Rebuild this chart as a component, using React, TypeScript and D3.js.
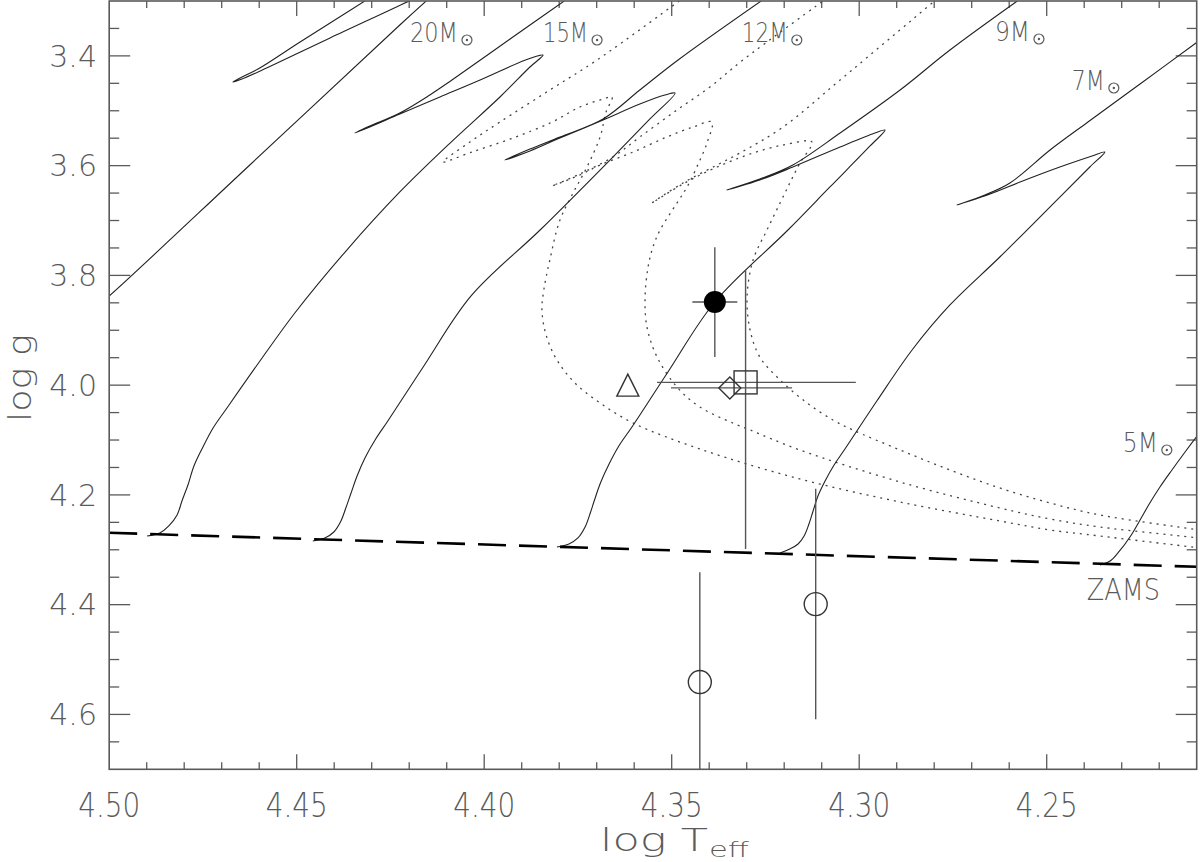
import React from "react";
import * as d3 from "d3";

// ---------- axes ----------
const X_DOMAIN = [4.5, 4.21];
const Y_DOMAIN = [3.3, 4.7];
const xTickLabels = ["4.50", "4.45", "4.40", "4.35", "4.30", "4.25"];
const yTickLabels = ["3.4", "3.6", "3.8", "4.0", "4.2", "4.4", "4.6"];

// ---------- ZAMS ----------
const zamsT = [4.5, 4.21];
const zamsG = [4.269, 4.331];

// ---------- solid evolutionary tracks (log Teff, log g) ----------
const m20msT = [4.503, 4.5, 4.4625, 4.4225, 4.414];
const m20msG = [3.854, 3.8375, 3.5988, 3.3437, 3.291];
const m20loopT = [4.431, 4.4491, 4.4603, 4.4651, 4.467, 4.4646, 4.4603, 4.4411, 4.4195, 4.4185];
const m20loopG = [3.2964, 3.3747, 3.4239, 3.4403, 3.4476, 3.4421, 3.4294, 3.3674, 3.2982, 3.2945];

const m15T = [4.4899, 4.4865, 4.4841, 4.4819, 4.4806, 4.479, 4.4774, 4.475, 4.4723, 4.4686, 4.4598, 4.4505, 4.4371, 4.4225, 4.4091, 4.3958, 4.3878, 4.3843,
  4.3867, 4.3897, 4.4011, 4.4118, 4.4225, 4.4305, 4.4345,
  4.4305, 4.4225, 4.4145, 4.4086, 4.3931, 4.3779];
const m15G = [4.2749, 4.2694, 4.2566, 4.2366, 4.2111, 4.1819, 4.1473, 4.1127, 4.0781, 4.0416, 3.956, 3.8685, 3.7574, 3.648, 3.5588, 3.4749, 3.4203, 3.3984,
  3.4021, 3.4093, 3.444, 3.4749, 3.5059, 3.5296, 3.5405,
  3.5278, 3.5041, 3.4713, 3.444, 3.3693, 3.2964];

const m12T = [4.4457, 4.4425, 4.4401, 4.4382, 4.4369, 4.4355, 4.4339, 4.4318, 4.4291, 4.4257, 4.4161, 4.4035, 4.3851, 4.3691, 4.3558, 4.3491,
  4.3518, 4.3585, 4.3683, 4.3798, 4.3878, 4.3945,
  4.3878, 4.3798, 4.3683, 4.3585, 4.3483, 4.3254];
const m12G = [4.284, 4.2785, 4.2676, 4.2475, 4.2238, 4.1965, 4.1655, 4.1327, 4.0999, 4.0653, 3.9651, 3.8375, 3.7173, 3.608, 3.515, 3.4677,
  3.4713, 3.4877, 3.5168, 3.5496, 3.5733, 3.5897,
  3.5697, 3.5478, 3.515, 3.4622, 3.4075, 3.2964];

const m9T = [4.3806, 4.3774, 4.375, 4.3731, 4.3718, 4.3705, 4.3689, 4.3667, 4.3641, 4.3606, 4.351, 4.3385, 4.319, 4.3078, 4.2971, 4.2931,
  4.2958, 4.3051, 4.3177, 4.3265, 4.3353,
  4.3265, 4.3177, 4.3051, 4.2891, 4.2758, 4.2571];
const m9G = [4.2949, 4.2894, 4.2785, 4.2585, 4.2348, 4.2074, 4.1765, 4.1437, 4.1109, 4.0762, 3.976, 3.8485, 3.7173, 3.6389, 3.5642, 3.5351,
  3.5405, 3.566, 3.6025, 3.6262, 3.6444,
  3.6244, 3.5988, 3.5405, 3.4622, 3.3893, 3.2964];

const m7T = [4.3211, 4.3185, 4.3163, 4.3147, 4.3134, 4.3123, 4.311, 4.3091, 4.3067, 4.3038, 4.2953, 4.2859, 4.2758, 4.2625, 4.2465, 4.2385, 4.2345,
  4.2379, 4.2465, 4.2571, 4.2651, 4.2739,
  4.2665, 4.2598, 4.2491, 4.239, 4.2251, 4.2091];
const m7G = [4.3058, 4.2985, 4.2894, 4.2749, 4.253, 4.2293, 4.202, 4.1746, 4.1455, 4.1163, 4.0289, 3.9359, 3.8539, 3.7665, 3.6572, 3.6025, 3.5751,
  3.5824, 3.6025, 3.6298, 3.6517, 3.6717,
  3.6535, 3.6316, 3.5715, 3.5205, 3.4512, 3.3711];

const m5T = [4.2358, 4.2331, 4.231, 4.2278, 4.2251, 4.2225, 4.2198, 4.2166, 4.2131, 4.2091];
const m5G = [4.3277, 4.3204, 4.3058, 4.2767, 4.2457, 4.2147, 4.1856, 4.1546, 4.1218, 4.0854];

// ---------- dotted tracks ----------
const dotAT = [4.2091, 4.2358, 4.2491, 4.2625, 4.2891, 4.3158, 4.3425, 4.3603, 4.3691, 4.3758, 4.3806, 4.3835, 4.3846, 4.3841, 4.3825, 4.3798, 4.3763, 4.3726, 4.3691, 4.3675, 4.3659,
  4.3683, 4.3745, 4.3819, 4.3923, 4.4033, 4.411,
  4.4038, 4.3958, 4.3825, 4.3699, 4.3473];
const dotAG = [4.2967, 4.2749, 4.2639, 4.2475, 4.2129, 4.171, 4.1163, 4.069, 4.0325, 3.9961, 3.9542, 3.9086, 3.8631, 3.8266, 3.7719, 3.6991, 3.6499, 3.6025, 3.5478, 3.5023, 3.4749,
  3.4786, 3.4932, 3.5205, 3.5496, 3.5752, 3.5934,
  3.5569, 3.5205, 3.4622, 3.4075, 3.2964];

const dotBT = [4.2091, 4.2358, 4.2491, 4.2625, 4.2891, 4.3158, 4.3291, 4.3337, 4.3425, 4.3486, 4.3539, 4.3566, 4.3571, 4.3563, 4.355, 4.3531, 4.3486, 4.3459, 4.3433, 4.3406, 4.3393,
  4.3443, 4.3513, 4.3603, 4.3691, 4.3745, 4.3819,
  4.3745, 4.3657, 4.3585, 4.3486, 4.3398, 4.331, 4.3089];
const dotBG = [4.2785, 4.2585, 4.2439, 4.2238, 4.1765, 4.1182, 4.0817, 4.069, 4.0398, 4.0034, 3.9487, 3.894, 3.8394, 3.7847, 3.7483, 3.7173, 3.6681, 3.6389, 3.6025, 3.5588, 3.5205,
  3.5296, 3.5478, 3.5752, 3.5988, 3.6171, 3.6371,
  3.6152, 3.5843, 3.5478, 3.4986, 3.4567, 3.4075, 3.2964];

const dotCT = [4.2091, 4.2358, 4.2491, 4.2625, 4.2758, 4.2891, 4.3017, 4.307, 4.3139, 4.3211, 4.3265, 4.3291, 4.3299, 4.3283, 4.3246, 4.3211, 4.3185, 4.3158, 4.3126,
  4.3203, 4.3291, 4.3379, 4.347, 4.3553,
  4.347, 4.3379, 4.3318, 4.3203, 4.3051, 4.2793];
const dotCG = [4.2639, 4.2366, 4.2147, 4.1874, 4.1546, 4.1182, 4.0817, 4.0635, 4.0325, 3.9906, 3.9487, 3.8995, 3.8394, 3.7719, 3.7173, 3.6681, 3.6316, 3.5952, 3.5569,
  3.5624, 3.5788, 3.6025, 3.6335, 3.6681,
  3.6316, 3.5988, 3.577, 3.5296, 3.444, 3.2964];

// ---------- observed stars ----------
const filledStar = { t: 4.3385, g: 3.8485, tLo: 4.3445, tHi: 4.3325, gLo: 3.7485, gHi: 3.9485 };
const squareStar = { t: 4.3303, g: 3.995, tLo: 4.3539, tHi: 4.3009, gLo: 3.79, gHi: 4.2985 };
const diamondStar = { t: 4.3345, g: 4.005, tLo: 4.3502, tHi: 4.3179 };
const triangleStar = { t: 4.3617, g: 4.0 };
const openStarsT = [4.3425, 4.3116];
const openStarsG = [4.541, 4.399];
const openStarsErr = [0.2, 0.21];

// ---------- mass labels ----------
const massLabels = ["20M", "15M", "12M", "9M", "7M", "5M"];
const massLabelT = [4.4198, 4.3843, 4.3313, 4.2638, 4.2433, 4.2297];
const massLabelG = [3.3747, 3.3747, 3.3747, 3.3729, 3.4622, 4.1218];
const zamsLabel = { text: "ZAMS", t: 4.2393, g: 4.3913 };

const GREY = "#5a5a5a";
const FONT = "'DejaVu Sans', sans-serif";

export default function App() {
  const x = d3.scaleLinear().domain(X_DOMAIN).range([109.2, 1196.7]);
  const y = d3.scaleLinear().domain(Y_DOMAIN).range([1, 769.3]);
  const [x0, x1] = x.range();
  const [y0, y1] = y.range();

  const pts = (T: number[], G: number[]) => T.map((t, i) => [t, G[i]] as [number, number]);
  const smooth = d3
    .line<[number, number]>()
    .x((d) => x(d[0]))
    .y((d) => y(d[1]))
    .curve(d3.curveCatmullRom.alpha(0.5));
  const straight = d3
    .line<[number, number]>()
    .x((d) => x(d[0]))
    .y((d) => y(d[1]));

  const solidTracks = [
    pts(m20msT, m20msG),
    pts(m20loopT, m20loopG),
    pts(m15T, m15G),
    pts(m12T, m12G),
    pts(m9T, m9G),
    pts(m7T, m7G),
    pts(m5T, m5G),
  ];
  const dottedTracks = [pts(dotAT, dotAG), pts(dotBT, dotBG), pts(dotCT, dotCG)];

  const xTicks = d3.range(422, 450).map((v) => v / 100);
  const yTicks = d3.range(67, 94).map((v) => v / 20);

  const labelWidths = [48, 45, 46, 35, 33, 35];

  return (
    <svg
      width={1200}
      height={862}
      style={{ position: "absolute", left: 0, top: 0, background: "#fff" }}
      fontFamily={FONT}
      fontWeight={200}
    >
      <defs>
        <clipPath id="plot">
          <rect x={x0} y={y0} width={x1 - x0} height={y1 - y0} />
        </clipPath>
      </defs>

      {/* ticks */}
      {xTicks.map((v) => {
        const k = Math.round(v * 100);
        const len = k % 5 === 0 ? 15 : 7;
        return (
          <g key={"xt" + k} stroke={GREY} strokeWidth={1.3}>
            <line x1={x(v)} x2={x(v)} y1={y1} y2={y1 - len} />
            <line x1={x(v)} x2={x(v)} y1={y0} y2={y0 + len} />
          </g>
        );
      })}
      {yTicks.map((v) => {
        const k = Math.round(v * 100);
        const len = k % 20 === 0 ? 21 : 10;
        return (
          <g key={"yt" + k} stroke={GREY} strokeWidth={1.3}>
            <line x1={x0} x2={x0 + len} y1={y(v)} y2={y(v)} />
            <line x1={x1} x2={x1 - len} y1={y(v)} y2={y(v)} />
          </g>
        );
      })}

      {/* tick labels */}
      {xTickLabels.map((s) => (
        <text
          key={"xl" + s}
          x={x(+s)}
          y={817}
          fontSize={33}
          fill={GREY}
          textAnchor="middle"
          textLength={62}
          lengthAdjust="spacingAndGlyphs"
        >
          {s}
        </text>
      ))}
      {yTickLabels.map((s) => (
        <text
          key={"yl" + s}
          x={97}
          y={y(+s)}
          dy="0.36em"
          fontSize={30}
          fill={GREY}
          textAnchor="end"
        >
          {s}
        </text>
      ))}

      {/* axis titles */}
      <text
        transform={`translate(31,378) rotate(-90)`}
        fontSize={32}
        fill={GREY}
        textAnchor="middle"
        textLength={88}
        lengthAdjust="spacingAndGlyphs"
      >
        log g
      </text>
      <text x={600} y={851} fontSize={32} fill={GREY} textLength={108} lengthAdjust="spacingAndGlyphs">
        log T
      </text>
      <text x={709} y={857} fontSize={21} fill={GREY} textLength={40} lengthAdjust="spacingAndGlyphs">
        eff
      </text>

      <g clipPath="url(#plot)">
        {/* dotted tracks */}
        {dottedTracks.map((d, i) => (
          <path
            key={"dot" + i}
            d={smooth(d) || ""}
            fill="none"
            stroke="#444"
            strokeWidth={1.3}
            strokeDasharray="2 5"
          />
        ))}
        {/* solid tracks */}
        {solidTracks.map((d, i) => (
          <path key={"trk" + i} d={smooth(d) || ""} fill="none" stroke="#222" strokeWidth={1.1} />
        ))}
        {/* ZAMS */}
        <path
          d={straight(pts(zamsT, zamsG)) || ""}
          fill="none"
          stroke="#000"
          strokeWidth={2.6}
          strokeDasharray="28 13"
        />

        {/* error bars */}
        <g stroke="#555" strokeWidth={1.4}>
          <line x1={x(filledStar.t)} x2={x(filledStar.t)} y1={y(filledStar.gLo)} y2={y(filledStar.gHi)} />
          <line x1={x(filledStar.tLo)} x2={x(filledStar.tHi)} y1={y(filledStar.g)} y2={y(filledStar.g)} />
          <line x1={x(squareStar.t)} x2={x(squareStar.t)} y1={y(squareStar.gLo)} y2={y(squareStar.gHi)} />
          <line x1={x(squareStar.tLo)} x2={x(squareStar.tHi)} y1={y(squareStar.g)} y2={y(squareStar.g)} />
          <line x1={x(diamondStar.tLo)} x2={x(diamondStar.tHi)} y1={y(diamondStar.g)} y2={y(diamondStar.g)} />
          {openStarsT.map((t, i) => (
            <line
              key={"oe" + i}
              x1={x(t)}
              x2={x(t)}
              y1={y(openStarsG[i] - openStarsErr[i])}
              y2={y(openStarsG[i] + openStarsErr[i])}
            />
          ))}
        </g>

        {/* markers */}
        <circle cx={x(filledStar.t)} cy={y(filledStar.g)} r={11} fill="#000" />
        <rect
          x={x(squareStar.t) - 11.5}
          y={y(squareStar.g) - 11.5}
          width={23}
          height={23}
          fill="none"
          stroke="#333"
          strokeWidth={1.4}
        />
        <path
          d={`M${x(diamondStar.t)},${y(diamondStar.g) - 11} l11,11 l-11,11 l-11,-11 Z`}
          fill="none"
          stroke="#333"
          strokeWidth={1.4}
        />
        <path
          d={`M${x(triangleStar.t)},${y(triangleStar.g) - 11} l11,22 l-22,0 Z`}
          fill="none"
          stroke="#333"
          strokeWidth={1.4}
        />
        {openStarsT.map((t, i) => (
          <circle
            key={"oc" + i}
            cx={x(t)}
            cy={y(openStarsG[i])}
            r={11.5}
            fill="none"
            stroke="#333"
            strokeWidth={1.4}
          />
        ))}
      </g>

      {/* frame */}
      <rect x={x0} y={y0} width={x1 - x0} height={y1 - y0} fill="none" stroke={GREY} strokeWidth={1.6} />

      {/* mass labels */}
      {massLabels.map((s, i) => {
        const lx = x(massLabelT[i]);
        const ly = y(massLabelG[i]);
        const w = labelWidths[i];
        return (
          <g key={"ml" + s}>
            <text
              x={lx}
              y={ly}
              fontSize={26}
              fill={GREY}
              textLength={w}
              lengthAdjust="spacingAndGlyphs"
            >
              {s}
            </text>
            <circle cx={lx + w + 9} cy={ly - 2} r={5} fill="none" stroke={GREY} strokeWidth={1.2} />
            <circle cx={lx + w + 9} cy={ly - 2} r={1.2} fill={GREY} />
          </g>
        );
      })}
      <text
        x={x(zamsLabel.t)}
        y={y(zamsLabel.g)}
        fontSize={31}
        fill={GREY}
        textLength={73}
        lengthAdjust="spacingAndGlyphs"
      >
        {zamsLabel.text}
      </text>
    </svg>
  );
}
